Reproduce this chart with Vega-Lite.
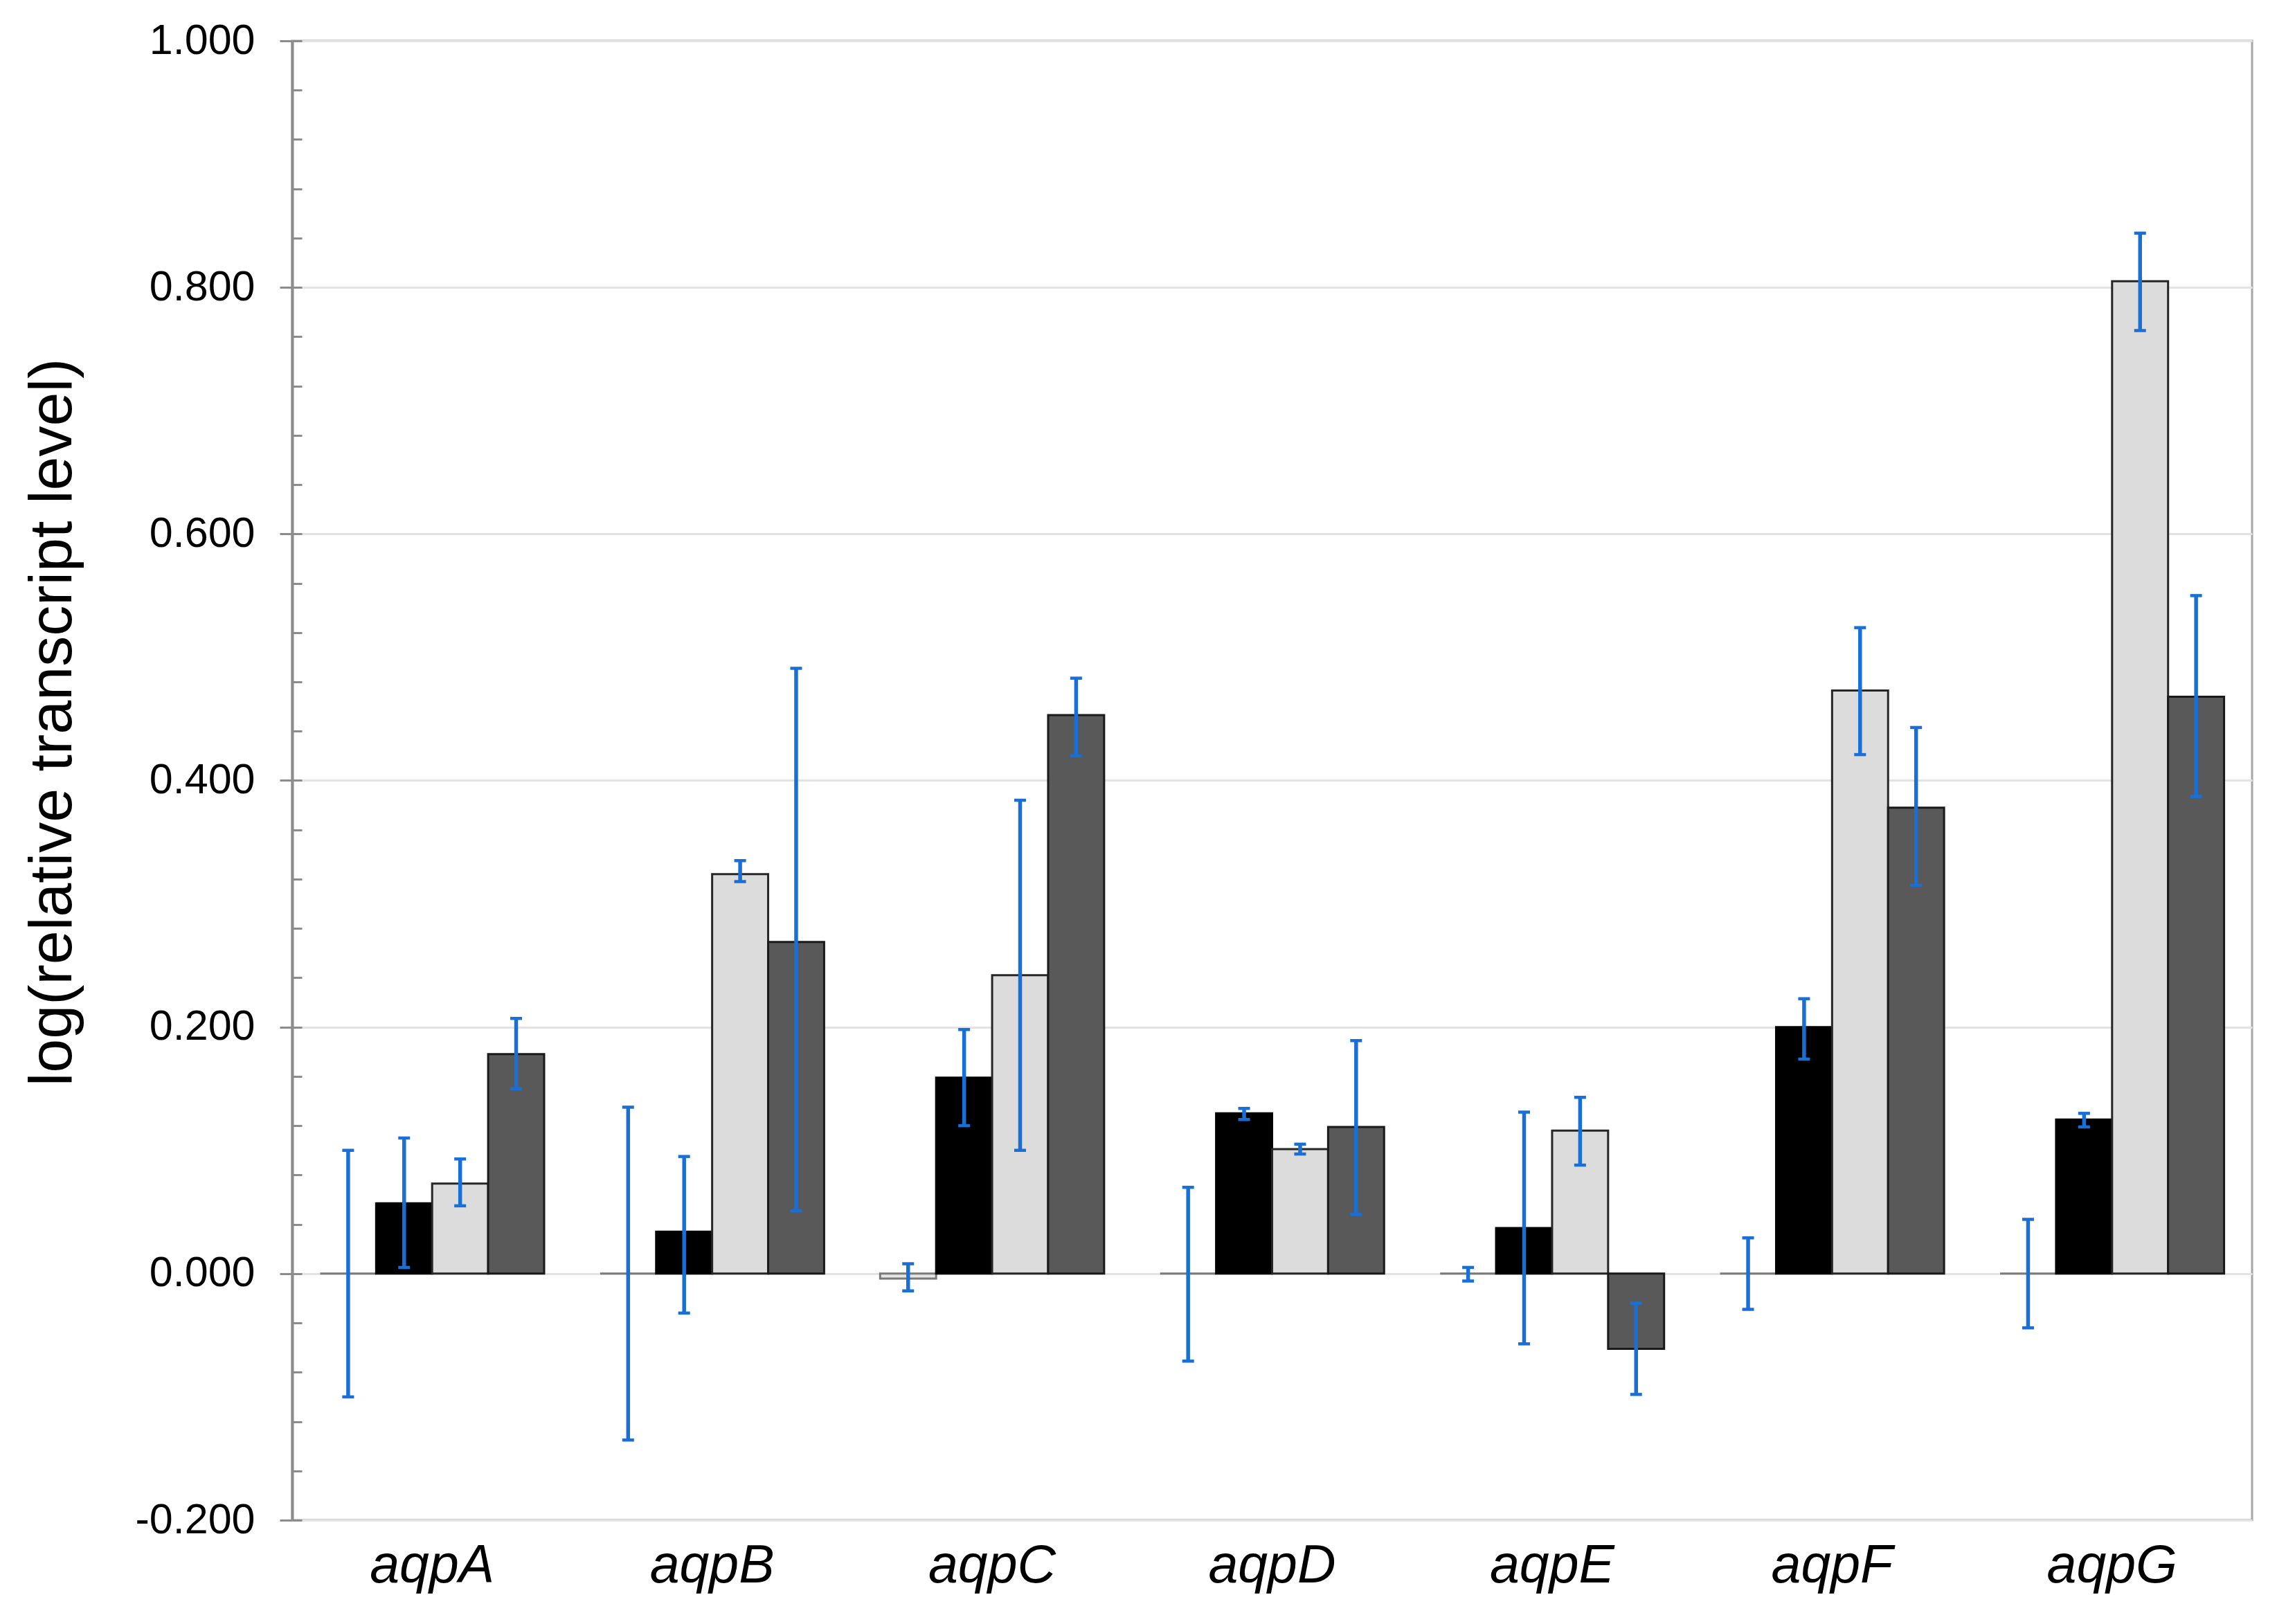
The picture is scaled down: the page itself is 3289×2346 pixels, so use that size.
{
  "$schema": "https://vega.github.io/schema/vega-lite/v6.json",
  "autosize": {"type": "none"},
  "padding": {"left": 422, "top": 59, "right": 36, "bottom": 150},
  "width": 2831,
  "height": 2137,
  "background": "#ffffff",
  "config": {
    "view": {"stroke": "#a6a6a6", "strokeWidth": 3},
    "font": "Liberation Sans"
  },
  "data": {
    "values": [
      {"gene": "aqpA", "series": "s1", "value": 0.000, "lo": -0.100, "hi": 0.100},
      {"gene": "aqpA", "series": "s2", "value": 0.057, "lo": 0.005, "hi": 0.110},
      {"gene": "aqpA", "series": "s3", "value": 0.073, "lo": 0.055, "hi": 0.093},
      {"gene": "aqpA", "series": "s4", "value": 0.178, "lo": 0.150, "hi": 0.207},
      {"gene": "aqpB", "series": "s1", "value": 0.000, "lo": -0.135, "hi": 0.135},
      {"gene": "aqpB", "series": "s2", "value": 0.034, "lo": -0.032, "hi": 0.095},
      {"gene": "aqpB", "series": "s3", "value": 0.324, "lo": 0.318, "hi": 0.335},
      {"gene": "aqpB", "series": "s4", "value": 0.269, "lo": 0.051, "hi": 0.491},
      {"gene": "aqpC", "series": "s1", "value": -0.004, "lo": -0.014, "hi": 0.008},
      {"gene": "aqpC", "series": "s2", "value": 0.159, "lo": 0.120, "hi": 0.198},
      {"gene": "aqpC", "series": "s3", "value": 0.242, "lo": 0.100, "hi": 0.384},
      {"gene": "aqpC", "series": "s4", "value": 0.453, "lo": 0.420, "hi": 0.483},
      {"gene": "aqpD", "series": "s1", "value": 0.000, "lo": -0.071, "hi": 0.070},
      {"gene": "aqpD", "series": "s2", "value": 0.130, "lo": 0.125, "hi": 0.134},
      {"gene": "aqpD", "series": "s3", "value": 0.101, "lo": 0.097, "hi": 0.105},
      {"gene": "aqpD", "series": "s4", "value": 0.119, "lo": 0.048, "hi": 0.189},
      {"gene": "aqpE", "series": "s1", "value": 0.000, "lo": -0.006, "hi": 0.005},
      {"gene": "aqpE", "series": "s2", "value": 0.037, "lo": -0.057, "hi": 0.131},
      {"gene": "aqpE", "series": "s3", "value": 0.116, "lo": 0.088, "hi": 0.143},
      {"gene": "aqpE", "series": "s4", "value": -0.061, "lo": -0.098, "hi": -0.024},
      {"gene": "aqpF", "series": "s1", "value": 0.000, "lo": -0.029, "hi": 0.029},
      {"gene": "aqpF", "series": "s2", "value": 0.200, "lo": 0.174, "hi": 0.223},
      {"gene": "aqpF", "series": "s3", "value": 0.473, "lo": 0.421, "hi": 0.524},
      {"gene": "aqpF", "series": "s4", "value": 0.378, "lo": 0.315, "hi": 0.443},
      {"gene": "aqpG", "series": "s1", "value": 0.000, "lo": -0.044, "hi": 0.044},
      {"gene": "aqpG", "series": "s2", "value": 0.125, "lo": 0.119, "hi": 0.130},
      {"gene": "aqpG", "series": "s3", "value": 0.805, "lo": 0.765, "hi": 0.844},
      {"gene": "aqpG", "series": "s4", "value": 0.468, "lo": 0.387, "hi": 0.550}
    ]
  },
  "encoding": {
    "x": {
      "field": "gene",
      "type": "nominal",
      "sort": ["aqpA", "aqpB", "aqpC", "aqpD", "aqpE", "aqpF", "aqpG"],
      "scale": {"paddingInner": 0.2, "paddingOuter": 0.1},
      "axis": {
        "title": null,
        "labelAngle": 0,
        "labelFont": "Liberation Sans",
        "labelFontSize": 77,
        "labelFontStyle": "italic",
        "labelColor": "#000000",
        "labelPadding": 28,
        "labelLimit": 1000,
        "labelOverlap": false,
        "labelBound": false,
        "ticks": false,
        "domain": false,
        "grid": false
      }
    },
    "xOffset": {
      "field": "series",
      "type": "nominal",
      "sort": ["s1", "s2", "s3", "s4"],
      "scale": {"paddingInner": 0, "paddingOuter": 0}
    }
  },
  "layer": [
    {
      "mark": {"type": "bar", "strokeWidth": 3},
      "encoding": {
        "y": {
          "field": "value",
          "type": "quantitative",
          "scale": {"domain": [-0.2, 1.0], "nice": false, "zero": true},
          "axis": {
            "values": [-0.2, 0, 0.2, 0.4, 0.6, 0.8, 1.0],
            "labelExpr": "replace(format(datum.value, '.3f'), '\u2212', '-')",
            "labelFont": "Liberation Sans",
            "labelFontSize": 61,
            "labelColor": "#000000",
            "labelPadding": 36,
            "tickSize": 18,
            "tickWidth": 3,
            "tickColor": "#8c8c8c",
            "domainColor": "#8c8c8c",
            "domainWidth": 4,
            "grid": true,
            "gridColor": "#e3e3e3",
            "gridWidth": 3,
            "title": "log(relative transcript level)",
            "titleFont": "Liberation Sans",
            "titleFontSize": 88,
            "titleFontWeight": "normal",
            "titleColor": "#000000",
            "titleX": -302,
            "titleY": 984
          }
        },
        "fill": {
          "field": "series",
          "type": "nominal",
          "scale": {"domain": ["s1", "s2", "s3", "s4"], "range": ["#e6e6e6", "#000000", "#dcdcdc", "#595959"]},
          "legend": null
        },
        "stroke": {
          "field": "series",
          "type": "nominal",
          "scale": {"domain": ["s1", "s2", "s3", "s4"], "range": ["#7a7a7a", "#000000", "#262626", "#1a1a1a"]},
          "legend": null
        }
      }
    },
    {
      "mark": {"type": "rule", "color": "#1a6fd6", "strokeWidth": 5.5},
      "encoding": {
        "y": {
          "field": "lo",
          "type": "quantitative",
          "axis": {
            "values": [-0.2, -0.16, -0.12, -0.08, -0.04, 0, 0.04, 0.08, 0.12, 0.16, 0.2, 0.24, 0.28, 0.32, 0.36, 0.4, 0.44, 0.48, 0.52, 0.56, 0.6, 0.64, 0.68, 0.72, 0.76, 0.8, 0.84, 0.88, 0.92, 0.96, 1.0],
            "orient": "left",
            "offset": -14,
            "labels": false,
            "domain": false,
            "grid": false,
            "title": null,
            "tickSize": 14,
            "tickWidth": 3,
            "tickColor": "#8c8c8c"
          }
        },
        "y2": {"field": "hi"}
      }
    },
    {
      "mark": {"type": "tick", "color": "#1a6fd6", "size": 17, "thickness": 4.5, "opacity": 1},
      "encoding": {
        "y": {"field": "lo", "type": "quantitative", "axis": null}
      }
    },
    {
      "mark": {"type": "tick", "color": "#1a6fd6", "size": 17, "thickness": 4.5, "opacity": 1},
      "encoding": {
        "y": {"field": "hi", "type": "quantitative", "axis": null}
      }
    }
  ],
  "resolve": {"axis": {"y": "independent"}}
}
